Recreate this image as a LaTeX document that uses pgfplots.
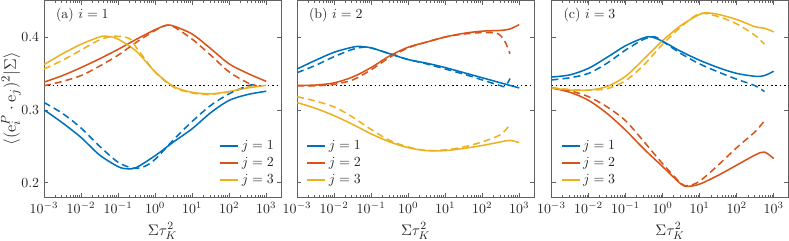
\documentclass[border=0pt]{standalone}
\usepackage{pgfplots}
\pgfplotsset{compat=1.18}
\definecolor{c1}{rgb}{0,0.447,0.741}
\definecolor{c2}{rgb}{0.85,0.325,0.098}
\definecolor{c3}{rgb}{0.929,0.694,0.125}
\definecolor{axc}{gray}{0.38}
\pgfplotsset{
  legend image code/.code={\draw[#1, solid, line width=1.2pt] (0pt,0pt) -- (13pt,0pt);},
  every axis plot/.append style={line width=1.1pt, smooth},
  ds/.style={dash pattern=on 5pt off 3pt, forget plot},
  every axis y label/.style={at={(rel axis cs:0,0.5)}, rotate=90, anchor=center, yshift=23.8pt},
  every axis x label/.style={at={(rel axis cs:0.5,0)}, anchor=center, yshift=-24.5pt},
}
\begin{document}
\begin{tikzpicture}
% ---------------- panel (a) ----------------
\begin{axis}[scale only axis, width=170.6pt, height=141.6pt,
  xmode=log, xmin=1e-3, xmax=2500, ymin=0.18, ymax=0.45,
  xtick={1e-3,1e-2,1e-1,1,1e1,1e2,1e3}, ytick={0.2,0.3,0.4},
  tick align=inside, major tick length=3pt, minor tick length=1.8pt,
  axis line style={draw=axc, line width=0.5pt},
  every tick/.style={axc, line width=0.4pt},
  tick label style={font=\fontsize{10}{12}\selectfont, text=black!85},
  x label style={font=\fontsize{11}{12}\selectfont, text=black!85},
  y label style={font=\fontsize{12.5}{14}\selectfont, text=black!85},
  xlabel={$\Sigma\tau_K^2$},
  legend style={draw=none, fill=none, font=\fontsize{10}{12}\selectfont, text=black!85, row sep=0pt},
  legend cell align=left,
  at={(0pt,0pt)}, anchor=south west,
  ylabel={$\langle(\mathrm{e}_i^P\cdot\mathrm{e}_j)^2|\Sigma\rangle$},
  legend style={at={(rel axis cs:1.0,0.03)}, anchor=south east}]
\addplot[black, dotted, line width=0.5pt, forget plot, sharp plot] coordinates {(1e-3,0.33333) (2500,0.33333)};
\addplot[c1] coordinates {(0.001,0.300) (0.003162,0.282) (0.01,0.262) (0.03162,0.238) (0.1,0.222) (0.1778,0.219) (0.3162,0.221) (1,0.237) (3.162,0.256) (10,0.274) (31.62,0.296) (100,0.313) (316.2,0.321) (1000,0.3255)};
\addplot[c2] coordinates {(0.001,0.338) (0.003162,0.347) (0.01,0.358) (0.03162,0.370) (0.1,0.383) (0.3162,0.397) (1,0.410) (1.995,0.416) (3.162,0.415) (10,0.404) (31.62,0.384) (100,0.363) (316.2,0.350) (1000,0.339)};
\addplot[c3] coordinates {(0.001,0.362) (0.003162,0.377) (0.01,0.390) (0.03162,0.400) (0.05012,0.401) (0.1,0.397) (0.3162,0.380) (1,0.352) (3.162,0.332) (10,0.324) (31.62,0.322) (100,0.325) (316.2,0.330) (1000,0.3335)};
\addplot[c1, ds] coordinates {(0.001,0.310) (0.003162,0.295) (0.01,0.275) (0.03162,0.250) (0.1,0.228) (0.2512,0.220) (0.5012,0.222) (1,0.232) (3.162,0.259) (10,0.284) (31.62,0.306) (100,0.322) (316.2,0.333) (562.3,0.335)};
\addplot[c2, ds] coordinates {(0.001,0.333) (0.003162,0.339) (0.01,0.347) (0.03162,0.360) (0.1,0.375) (0.3162,0.393) (1,0.409) (1.995,0.416) (3.162,0.414) (10,0.397) (31.62,0.375) (100,0.352) (316.2,0.337) (562.3,0.333)};
\addplot[c3, ds] coordinates {(0.001,0.356) (0.003162,0.368) (0.01,0.382) (0.03162,0.396) (0.07943,0.401) (0.1995,0.398) (0.3162,0.385) (1,0.352) (3.162,0.331) (10,0.323) (31.62,0.321) (100,0.325) (316.2,0.331) (562.3,0.333)};
\legend{$j=1$,$j=2$,$j=3$}
\node[anchor=west, font=\fontsize{10}{12}\selectfont, text=black!85] at (rel axis cs:0.03,0.925) {(a) $i=1$};
\end{axis}
% ---------------- panel (b) ----------------
\begin{axis}[scale only axis, width=170.6pt, height=141.6pt,
  xmode=log, xmin=1e-3, xmax=2500, ymin=0.18, ymax=0.45,
  xtick={1e-3,1e-2,1e-1,1,1e1,1e2,1e3}, ytick={0.2,0.3,0.4},
  tick align=inside, major tick length=3pt, minor tick length=1.8pt,
  axis line style={draw=axc, line width=0.5pt},
  every tick/.style={axc, line width=0.4pt},
  tick label style={font=\fontsize{10}{12}\selectfont, text=black!85},
  x label style={font=\fontsize{11}{12}\selectfont, text=black!85},
  xlabel={$\Sigma\tau_K^2$},
  legend style={draw=none, fill=none, font=\fontsize{10}{12}\selectfont, text=black!85, row sep=0pt},
  legend cell align=left,
  at={(182.2pt,0pt)}, anchor=south west, yticklabels={},
  legend style={at={(rel axis cs:0.02,0.03)}, anchor=south west}]
\addplot[black, dotted, line width=0.5pt, forget plot, sharp plot] coordinates {(1e-3,0.33333) (2500,0.33333)};
\addplot[c1] coordinates {(0.001,0.356) (0.003162,0.368) (0.01,0.379) (0.03162,0.386) (0.05012,0.387) (0.1,0.385) (0.3162,0.377) (1,0.369) (3.162,0.364) (10,0.358) (31.62,0.351) (100,0.344) (316.2,0.337) (1000,0.330)};
\addplot[c2] coordinates {(0.001,0.3335) (0.003162,0.334) (0.01,0.337) (0.03162,0.345) (0.1,0.358) (0.3162,0.374) (1,0.386) (3.162,0.393) (10,0.400) (31.62,0.405) (100,0.408) (316.2,0.409) (562.3,0.411) (1000,0.417)};
\addplot[c3] coordinates {(0.001,0.310) (0.003162,0.302) (0.01,0.292) (0.03162,0.280) (0.1,0.267) (0.3162,0.256) (1,0.248) (3.162,0.244) (10,0.244) (31.62,0.247) (100,0.251) (316.2,0.256) (562.3,0.258) (1000,0.255)};
\addplot[c1, ds] coordinates {(0.001,0.351) (0.003162,0.361) (0.01,0.373) (0.03162,0.383) (0.0631,0.386) (0.1,0.385) (0.3162,0.377) (1,0.369) (3.162,0.363) (10,0.356) (31.62,0.349) (100,0.341) (316.2,0.333) (398.1,0.332) (501.2,0.338) (562.3,0.343)};
\addplot[c2, ds] coordinates {(0.001,0.333) (0.003162,0.333) (0.01,0.335) (0.03162,0.341) (0.1,0.355) (0.3162,0.372) (1,0.385) (3.162,0.393) (10,0.400) (31.62,0.404) (100,0.406) (251.2,0.405) (398.1,0.395) (562.3,0.377)};
\addplot[c3, ds] coordinates {(0.001,0.318) (0.003162,0.312) (0.01,0.304) (0.03162,0.290) (0.1,0.273) (0.3162,0.258) (1,0.249) (3.162,0.244) (10,0.245) (31.62,0.249) (100,0.256) (316.2,0.266) (562.3,0.280)};
\legend{$j=1$,$j=2$,$j=3$}
\node[anchor=west, font=\fontsize{10}{12}\selectfont, text=black!85] at (rel axis cs:0.03,0.925) {(b) $i=2$};
\end{axis}
% ---------------- panel (c) ----------------
\begin{axis}[scale only axis, width=170.6pt, height=141.6pt,
  xmode=log, xmin=1e-3, xmax=2500, ymin=0.18, ymax=0.45,
  xtick={1e-3,1e-2,1e-1,1,1e1,1e2,1e3}, ytick={0.2,0.3,0.4},
  tick align=inside, major tick length=3pt, minor tick length=1.8pt,
  axis line style={draw=axc, line width=0.5pt},
  every tick/.style={axc, line width=0.4pt},
  tick label style={font=\fontsize{10}{12}\selectfont, text=black!85},
  x label style={font=\fontsize{11}{12}\selectfont, text=black!85},
  xlabel={$\Sigma\tau_K^2$},
  legend style={draw=none, fill=none, font=\fontsize{10}{12}\selectfont, text=black!85, row sep=0pt},
  legend cell align=left,
  at={(365.4pt,0pt)}, anchor=south west, yticklabels={},
  legend style={at={(rel axis cs:0.02,0.03)}, anchor=south west}]
\addplot[black, dotted, line width=0.5pt, forget plot, sharp plot] coordinates {(1e-3,0.33333) (2500,0.33333)};
\addplot[c1] coordinates {(0.001,0.345) (0.003162,0.348) (0.01,0.357) (0.03162,0.372) (0.1,0.388) (0.3162,0.399) (0.5012,0.400) (1,0.394) (3.162,0.380) (10,0.368) (31.62,0.358) (100,0.350) (316.2,0.346) (562.3,0.347) (1000,0.353)};
\addplot[c2] coordinates {(0.001,0.330) (0.003162,0.324) (0.01,0.313) (0.03162,0.295) (0.1,0.272) (0.3162,0.246) (1,0.222) (3.162,0.198) (5.012,0.195) (10,0.198) (31.62,0.210) (100,0.224) (316.2,0.238) (562.3,0.242) (1000,0.233)};
\addplot[c3] coordinates {(0.001,0.330) (0.003162,0.327) (0.01,0.327) (0.03162,0.332) (0.1,0.346) (0.3162,0.370) (1,0.395) (3.162,0.416) (10,0.431) (15.85,0.433) (31.62,0.431) (100,0.424) (316.2,0.414) (562.3,0.412) (1000,0.407)};
\addplot[c1, ds] coordinates {(0.001,0.341) (0.003162,0.344) (0.01,0.350) (0.03162,0.364) (0.1,0.382) (0.3162,0.397) (0.631,0.400) (1,0.394) (3.162,0.377) (10,0.363) (31.62,0.352) (100,0.342) (316.2,0.333) (562.3,0.325)};
\addplot[c2, ds] coordinates {(0.001,0.330) (0.003162,0.326) (0.01,0.318) (0.03162,0.304) (0.1,0.285) (0.3162,0.256) (1,0.226) (3.162,0.199) (5.012,0.196) (10,0.202) (31.62,0.224) (100,0.248) (316.2,0.270) (562.3,0.285)};
\addplot[c3, ds] coordinates {(0.001,0.330) (0.003162,0.328) (0.01,0.327) (0.03162,0.329) (0.1,0.340) (0.3162,0.362) (1,0.390) (3.162,0.414) (10,0.432) (31.62,0.428) (100,0.418) (316.2,0.402) (562.3,0.390)};
\legend{$j=1$,$j=2$,$j=3$}
\node[anchor=west, font=\fontsize{10}{12}\selectfont, text=black!85] at (rel axis cs:0.03,0.925) {(c) $i=3$};
\end{axis}
\pgfresetboundingbox
\path (-31.7pt,-31.0pt) rectangle (536.4pt,142pt);
\end{tikzpicture}
\end{document}
